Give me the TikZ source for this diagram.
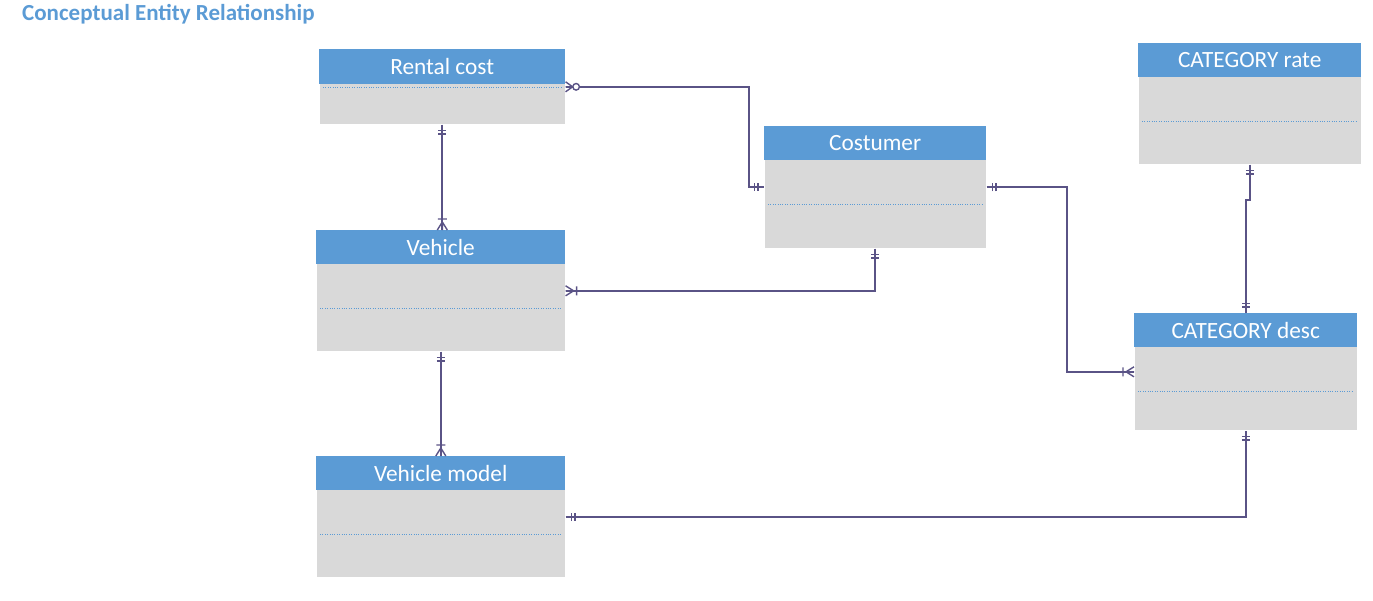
\documentclass[tikz,border=0pt]{standalone}
\usepackage{fontspec}
\setmainfont{Carlito}
\definecolor{hdr}{HTML}{5B9BD5}
\definecolor{bodyc}{HTML}{D9D9D9}
\definecolor{lnc}{HTML}{5A5386}
\begin{document}
\begin{tikzpicture}[x=1pt,y=1pt,
  ebody/.style={draw=white,line width=0.6pt,fill=bodyc,anchor=north west,inner sep=0pt},
  ehead/.style={fill=hdr,anchor=north west,inner sep=0pt,text=white,font=\fontsize{23.3}{26}\selectfont},
  sep/.style={draw=hdr,line width=0.4pt,dotted},
  rel/.style={draw=lnc,line width=1.8pt},
  cardmark/.style={draw=lnc,line width=1.4pt},
  oneone/.pic={\draw[cardmark] (6,-4)--(6,4) (9.5,-4)--(9.5,4);},
  onemany/.pic={\draw[cardmark] (0,-5)--(8,0)--(0,5) (0,0)--(8,0) (11,-4.5)--(11,4.5);},
  zeromany/.pic={\draw[cardmark] (0,-5)--(7,0)--(0,5) (0,0)--(7,0); \draw[cardmark,fill=white] (10.5,0) circle (3.3);}
]
\useasboundingbox (0,0) rectangle (1373,-600);
\node[anchor=west,inner sep=0pt,text=hdr,font=\fontsize{23}{26}\selectfont\bfseries] (title) at (22,-14) {Conceptual Entity Relationship};

% entities
\node[ebody,minimum width=246,minimum height=75] (rc) at (319,-49) {};
\node[ehead,minimum width=246,minimum height=35] (rch) at (319,-49) {Rental cost};
\draw[sep] (323,-87) -- (561,-87);

\node[ebody,minimum width=223,minimum height=121] (cr) at (1138,-43) {};
\node[ehead,minimum width=223,minimum height=34] (crh) at (1138,-43) {CATEGORY rate};
\draw[sep] (1142,-121) -- (1357,-121);

\node[ebody,minimum width=222,minimum height=122] (cu) at (764,-126) {};
\node[ehead,minimum width=222,minimum height=34] (cuh) at (764,-126) {Costumer};
\draw[sep] (768,-204) -- (982,-204);

\node[ebody,minimum width=249,minimum height=121] (vh) at (316,-230) {};
\node[ehead,minimum width=249,minimum height=34] (vhh) at (316,-230) {Vehicle};
\draw[sep] (320,-308) -- (561,-308);

\node[ebody,minimum width=223,minimum height=117] (cd) at (1134,-313) {};
\node[ehead,minimum width=223,minimum height=34] (cdh) at (1134,-313) {CATEGORY desc};
\draw[sep] (1138,-391) -- (1353,-391);

\node[ebody,minimum width=249,minimum height=121] (vm) at (316,-456) {};
\node[ehead,minimum width=249,minimum height=34] (vmh) at (316,-456) {Vehicle model};
\draw[sep] (320,-534) -- (561,-534);

% relationships
\draw[rel] (rc.south) -- (rc.south |- vh.north);
\draw[rel] (rc.east) -| ([xshift=-15]cu.west) -- (cu.west);
\draw[rel] (cu.south) |- (vh.east);
\draw[rel] (cu.east) -| ([xshift=-67]cd.west) -- (cd.west);
\draw[rel] (cr.south) -- ([yshift=-35]cr.south) -| (cd.north);
\draw[rel] (vh.south) -- (vh.south |- vm.north);
\draw[rel] (vm.east) -| (cd.south);

% cardinality marks
\pic[rotate=-90] at (rc.south) {oneone};
\pic[rotate=90] at (rc.south |- vh.north) {onemany};
\pic at (rc.east) {zeromany};
\pic[rotate=180] at (cu.west) {oneone};
\pic[rotate=-90] at (cu.south) {oneone};
\pic at (vh.east) {onemany};
\pic at (cu.east) {oneone};
\pic[rotate=180] at (cd.west) {onemany};
\pic[rotate=-90] at (cr.south) {oneone};
\pic[rotate=90] at (cd.north) {oneone};
\pic[rotate=-90] at (vh.south) {oneone};
\pic[rotate=90] at (vh.south |- vm.north) {onemany};
\pic at (vm.east) {oneone};
\pic[rotate=-90] at (cd.south) {oneone};
\end{tikzpicture}
\end{document}
